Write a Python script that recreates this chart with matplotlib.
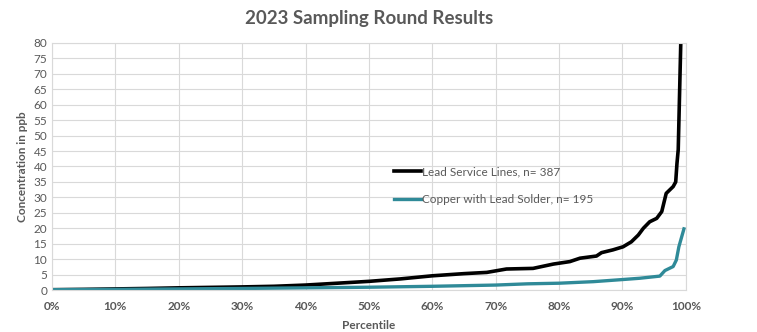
import matplotlib
matplotlib.use("Agg")
import matplotlib.pyplot as plt
from matplotlib.ticker import MultipleLocator, PercentFormatter

plt.rcParams['font.family'] = ['Lato', 'DejaVu Sans']

# percentile (%) and concentration (ppb)
lead_pct = [0, 5, 10, 15, 20, 25, 30, 35, 40, 45, 50, 55, 60, 65, 68.6, 71.7,
            75.9, 79.1, 81.7, 83.3, 85.9, 86.7, 88.5, 90.1, 91.4, 92.5, 93.3,
            94.3, 95.4, 96.2, 96.9, 98.0, 98.4, 98.6, 98.8, 99.2, 99.6]
lead_ppb = [0.1, 0.2, 0.35, 0.5, 0.7, 0.85, 1.0, 1.2, 1.6, 2.2, 2.8, 3.6, 4.6,
            5.3, 5.7, 6.8, 7.0, 8.4, 9.2, 10.3, 11.0, 12.1, 13.0, 14.0, 15.6,
            17.8, 20.0, 22.1, 23.2, 25.4, 31.3, 33.5, 35.0, 41.0, 45.5, 80, 110]

copper_pct = [0, 10, 20, 30, 40, 50, 60, 70, 75, 80, 85.4, 90.1, 92.7, 95.9,
              96.7, 98.0, 98.5, 98.9, 99.7]
copper_ppb = [0.1, 0.2, 0.35, 0.5, 0.7, 0.9, 1.2, 1.6, 2.0, 2.2, 2.7, 3.4, 3.8,
              4.5, 6.3, 7.6, 9.7, 14.0, 19.8]

grey = '#595959'
teal = '#2f8a98'

fig = plt.figure(figsize=(7.57, 3.32), dpi=100)
ax = fig.add_axes([0.0687, 0.1265, 0.8373, 0.744])

ax.plot(lead_pct, lead_ppb, color='black', lw=2.6, label='Lead Service Lines, n= 387')
ax.plot(copper_pct, copper_ppb, color=teal, lw=2.4, label='Copper with Lead Solder, n= 195')

ax.set_xlim(0, 100)
ax.set_ylim(0, 80)
ax.xaxis.set_major_locator(MultipleLocator(10))
ax.yaxis.set_major_locator(MultipleLocator(5))
ax.xaxis.set_major_formatter(PercentFormatter(decimals=0))
ax.grid(True, color='#d9d9d9', lw=0.8)
ax.set_axisbelow(True)
for s in ax.spines.values():
    s.set_color('#d9d9d9')
    s.set_linewidth(0.8)
ax.tick_params(length=0, colors=grey, labelsize=8.5)
ax.tick_params(axis='x', pad=8)
for t in ax.get_xticklabels():
    t.set_fontweight('bold')

ax.set_title('2023 Sampling Round Results', fontsize=13.5, fontweight='bold', color=grey, pad=14)
ax.set_xlabel('Percentile', fontsize=8.5, fontweight='bold', color=grey, labelpad=6)
ax.set_ylabel('Concentration in ppb', fontsize=8.5, fontweight='bold', color=grey, labelpad=4)

leg = ax.legend(loc='upper left', bbox_to_anchor=(0.532, 0.52), frameon=False,
                fontsize=8.5, handlelength=2.3, handletextpad=0.1, labelspacing=1.4,
                borderaxespad=0)
for t in leg.get_texts():
    t.set_color(grey)

fig.savefig('out.png', dpi=100)
